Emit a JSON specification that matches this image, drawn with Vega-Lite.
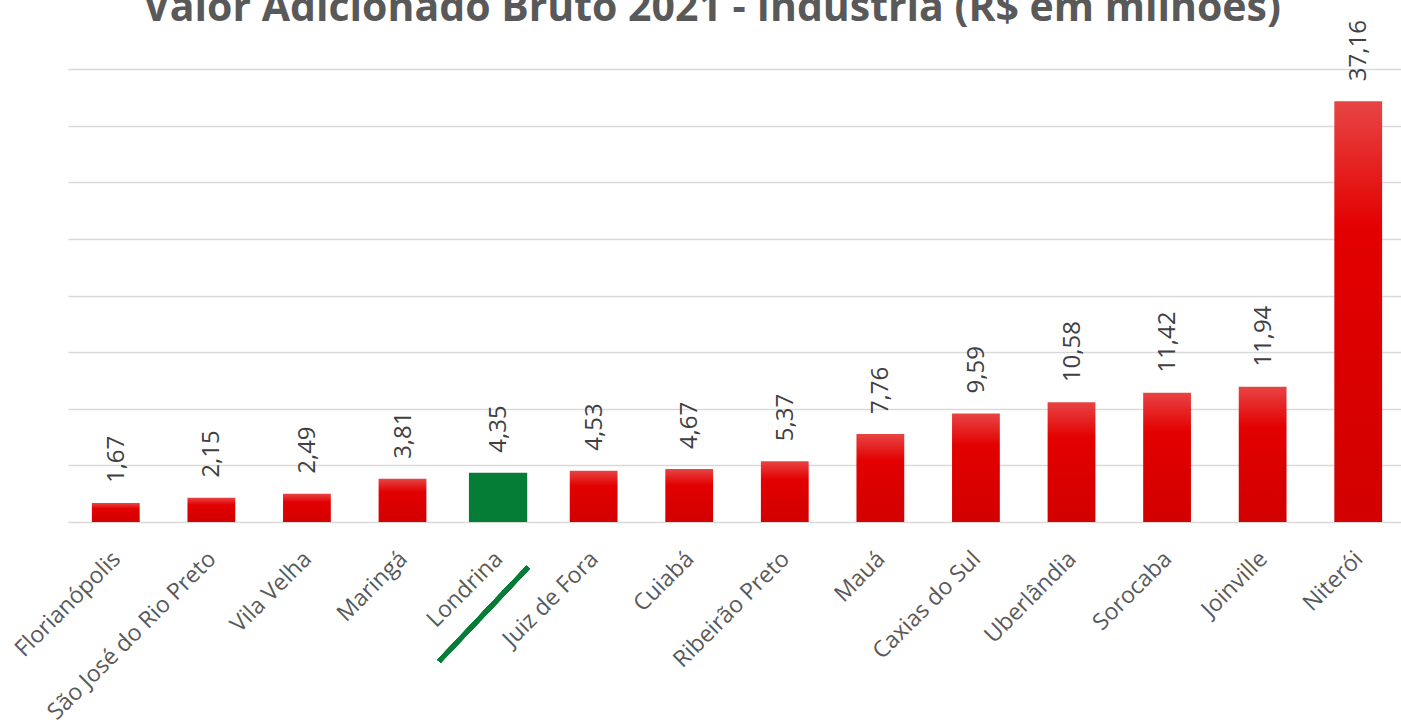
{
  "$schema": "https://vega.github.io/schema/vega-lite/v6.json",
  "autosize": {"type": "none"},
  "padding": {"left": 68, "top": 69, "right": 0, "bottom": 205},
  "width": 1338,
  "height": 453,
  "background": "white",
  "config": {
    "view": {"stroke": null},
    "font": "Open Sans",
    "locale": {"number": {"decimal": ",", "thousands": ".", "grouping": [3], "currency": ["R$", ""]}}
  },
  "title": {
    "text": "Valor Adicionado Bruto 2021 - Indústria (R$ em milhões)",
    "fontSize": 41,
    "fontWeight": "bold",
    "color": "#595959",
    "font": "Open Sans",
    "anchor": "middle",
    "frame": "group",
    "offset": -10,
    "dx": -25
  },
  "data": {
    "values": [
      {"cidade": "Florianópolis", "valor": 1.67, "destaque": "nao"},
      {"cidade": "São José do Rio Preto", "valor": 2.15, "destaque": "nao"},
      {"cidade": "Vila Velha", "valor": 2.49, "destaque": "nao"},
      {"cidade": "Maringá", "valor": 3.81, "destaque": "nao"},
      {"cidade": "Londrina", "valor": 4.35, "destaque": "sim"},
      {"cidade": "Juiz de Fora", "valor": 4.53, "destaque": "nao"},
      {"cidade": "Cuiabá", "valor": 4.67, "destaque": "nao"},
      {"cidade": "Ribeirão Preto", "valor": 5.37, "destaque": "nao"},
      {"cidade": "Mauá", "valor": 7.76, "destaque": "nao"},
      {"cidade": "Caxias do Sul", "valor": 9.59, "destaque": "nao"},
      {"cidade": "Uberlândia", "valor": 10.58, "destaque": "nao"},
      {"cidade": "Sorocaba", "valor": 11.42, "destaque": "nao"},
      {"cidade": "Joinville", "valor": 11.94, "destaque": "nao"},
      {"cidade": "Niterói", "valor": 37.16, "destaque": "nao"}
    ]
  },
  "encoding": {
    "x": {
      "field": "cidade",
      "type": "nominal",
      "sort": ["Florianópolis", "São José do Rio Preto", "Vila Velha", "Maringá", "Londrina", "Juiz de Fora", "Cuiabá", "Ribeirão Preto", "Mauá", "Caxias do Sul", "Uberlândia", "Sorocaba", "Joinville", "Niterói"],
      "scale": {"paddingInner": 0, "paddingOuter": 0},
      "axis": {
        "title": null,
        "labelAngle": -45,
        "labelAlign": "right",
        "labelBaseline": "middle",
        "labelFontSize": 23,
        "labelColor": "#595959",
        "labelPadding": 33,
        "labelOffset": 1,
        "labelOverlap": false,
        "labelLimit": 400,
        "ticks": false,
        "domain": false,
        "grid": false
      }
    },
    "y": {
      "field": "valor",
      "type": "quantitative",
      "scale": {"domain": [0, 40], "nice": false, "zero": true},
      "axis": {
        "title": null,
        "labels": false,
        "ticks": false,
        "domain": false,
        "values": [0, 5, 10, 15, 20, 25, 30, 35, 40],
        "gridColor": "#d9d9d9",
        "gridWidth": 1.5
      }
    }
  },
  "layer": [
    {
      "transform": [{"filter": "datum.destaque == 'nao'"}],
      "mark": {
        "type": "bar",
        "width": {"band": 0.5},
        "fill": {
          "gradient": "linear",
          "x1": 0, "y1": 0, "x2": 0, "y2": 1,
          "stops": [
            {"offset": 0, "color": "#e84444"},
            {"offset": 0.3, "color": "#e30000"},
            {"offset": 1, "color": "#d20000"}
          ]
        }
      }
    },
    {
      "transform": [{"filter": "datum.destaque == 'sim'"}],
      "mark": {"type": "bar", "width": {"band": 0.61}, "fill": "#067d36"}
    },
    {
      "mark": {
        "type": "text",
        "angle": -90,
        "align": "left",
        "baseline": "middle",
        "dx": 20,
        "dy": 1,
        "fontSize": 24,
        "color": "#404040"
      },
      "encoding": {
        "text": {"field": "valor", "type": "quantitative", "format": ".2f"}
      }
    },
    {
      "mark": {"type": "rule", "color": "#067d36", "strokeWidth": 4.5, "xOffset": -59, "x2Offset": 30},
      "encoding": {
        "x": {"datum": "Londrina"},
        "x2": {"datum": "Londrina"},
        "y": {"datum": -12.3},
        "y2": {"datum": -4.0}
      }
    }
  ]
}
